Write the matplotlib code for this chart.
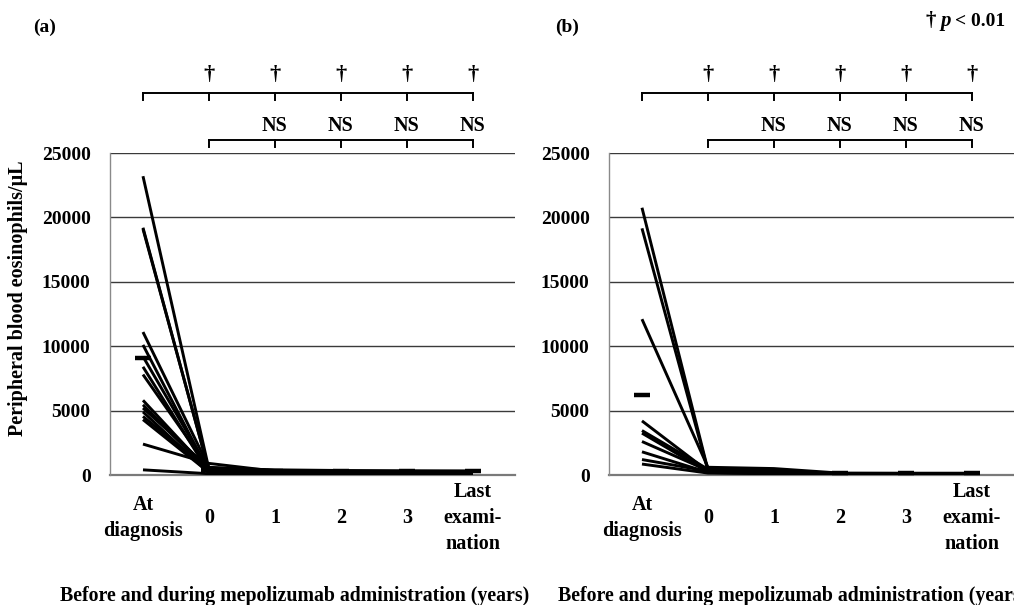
import matplotlib
matplotlib.use("Agg")
import matplotlib.pyplot as plt
import numpy as np

plt.rcParams['font.family'] = ['Liberation Serif', 'DejaVu Serif']
plt.rcParams['font.weight'] = 'bold'

categories = ["At\ndiagnosis", "0", "1", "2", "3", "Last\nexami-\nnation"]
yticks = [0, 5000, 10000, 15000, 20000, 25000]

# Panel (a): values per time point for each patient
a_diag = [23200, 19200, 19100, 11100, 10100, 9200, 8400, 7800, 5800, 5450, 5200, 4900, 4550, 4300, 2400, 400]
a_y0 = [450, 300, 350, 600, 250, 400, 200, 500, 300, 250, 550, 150, 350, 200, 900, 100]
a_y1 = [150, 100, 200, 350, 100, 250, 80, 300, 150, 120, 400, 60, 200, 100, 300, 50]
a_y2 = [120, 90, 180, 300, 100, 220, 70, 280, 140, 110, 350, 60, 180, 90, 250, 50]
a_y3 = [110, 80, 170, 280, 90, 200, 60, 260, 130, 100, 330, 50, 170, 80, 230, 40]
a_last = [100, 80, 160, 270, 90, 200, 60, 250, 120, 100, 320, 50, 160, 80, 220, 40]
a_mean = [9100, 400, 300, 300, 300, 300]

# Panel (b)
b_diag = [20750, 19150, 12100, 4200, 3450, 3250, 2600, 1800, 1200, 850]
b_y0 = [400, 350, 600, 300, 450, 250, 350, 200, 300, 150]
b_y1 = [300, 250, 500, 200, 350, 150, 250, 100, 200, 100]
b_y2 = [100, 120, 150, 80, 100, 60, 90, 50, 70, 40]
b_y3 = [90, 110, 140, 80, 100, 60, 80, 50, 60, 40]
b_last = [90, 100, 140, 70, 90, 50, 80, 40, 60, 40]
b_mean = [6200, 350, 300, 120, 120, 120]

W, H = 1014, 605
fig = plt.figure(figsize=(W / 100, H / 100), dpi=100)

def px_axes(left, top, right, bottom):
    return fig.add_axes([left / W, 1 - bottom / H, (right - left) / W, (bottom - top) / H])

ax_a = px_axes(110, 153, 515, 475)
ax_b = px_axes(609, 153, 1014, 475)

def draw_panel(ax, series, means):
    data = np.array(series)  # timepoints x patients
    x = np.arange(len(categories))
    for j in range(data.shape[1]):
        ax.plot(x, data[:, j], color='black', lw=2.1, solid_capstyle='butt', zorder=3)
    ax.plot(x, means, linestyle='none', marker='_', markersize=11, markeredgewidth=3.2,
            color='black', zorder=4)
    ax.set_xlim(-0.5, 5.64)
    ax.set_ylim(0, 25000)
    ax.set_yticks(yticks)
    ax.set_yticklabels([str(v) for v in yticks], fontsize=14, fontweight='bold')
    ax.set_xticks(x)
    ax.set_xticklabels(categories, fontsize=14.5, fontweight='bold')
    for lbl in ax.get_xticklabels():
        lbl.set_va('center')
        lbl.set_multialignment('center')
        lbl.set_linespacing(1.4)
    ax.tick_params(axis='x', length=0, pad=31)
    ax.tick_params(axis='y', length=0, pad=14)
    ax.grid(axis='y', color='#3a3a3a', lw=1.0, zorder=1)
    for s in ['top', 'right']:
        ax.spines[s].set_visible(False)
    ax.spines['left'].set_color('#8a8a8a')
    ax.spines['left'].set_linewidth(1.0)
    ax.spines['bottom'].set_color('#7a7a7a')
    ax.spines['bottom'].set_linewidth(1.6)
    ax.spines['bottom'].set_zorder(2)

    tr = ax.get_xaxis_transform()
    # upper bracket (at diagnosis vs each later time point)
    ax.plot([0, 5], [1.186, 1.186], color='black', lw=1.4, transform=tr, clip_on=False)
    for xi in range(6):
        ax.plot([xi, xi], [1.186, 1.165], color='black', lw=1.4, transform=tr, clip_on=False)
    for xi in range(1, 6):
        ax.text(xi, 1.242, '\u2020', transform=tr, ha='center', va='center',
                fontsize=16, fontweight='bold')
    # lower bracket (0 vs each later time point)
    ax.plot([1, 5], [1.040, 1.040], color='black', lw=1.4, transform=tr, clip_on=False)
    for xi in range(1, 6):
        ax.plot([xi, xi], [1.040, 1.020], color='black', lw=1.4, transform=tr, clip_on=False)
    for xi in range(2, 6):
        ax.text(xi, 1.084, 'NS', transform=tr, ha='center', va='center',
                fontsize=14.5, fontweight='bold')

draw_panel(ax_a, [a_diag, a_y0, a_y1, a_y2, a_y3, a_last], a_mean)
draw_panel(ax_b, [b_diag, b_y0, b_y1, b_y2, b_y3, b_last], b_mean)

fig.text(18 / W, 1 - 298 / H, 'Peripheral blood eosinophils/\u03bcL', rotation=90,
         ha='center', va='center', fontsize=14.5, fontweight='bold')

xlabel = 'Before and during mepolizumab administration (years)'
fig.text(60 / W, 1 - 596 / H, xlabel, ha='left', va='center', fontsize=14.3, fontweight='bold')
fig.text(558 / W, 1 - 596 / H, xlabel, ha='left', va='center', fontsize=14.3, fontweight='bold')

fig.text(33 / W, 1 - 27 / H, '(a)', ha='left', va='center', fontsize=14, fontweight='bold')
fig.text(555 / W, 1 - 27 / H, '(b)', ha='left', va='center', fontsize=14, fontweight='bold')
fig.text(925 / W, 1 - 21 / H, '\u2020', ha='left', va='center', fontsize=15, fontweight='bold')
fig.text(940 / W, 1 - 21 / H, 'p', ha='left', va='center', fontsize=15,
         fontweight='bold', fontstyle='italic')
fig.text(955 / W, 1 - 21 / H, '< 0.01', ha='left', va='center', fontsize=14, fontweight='bold')

fig.savefig('out.png', dpi=100)
